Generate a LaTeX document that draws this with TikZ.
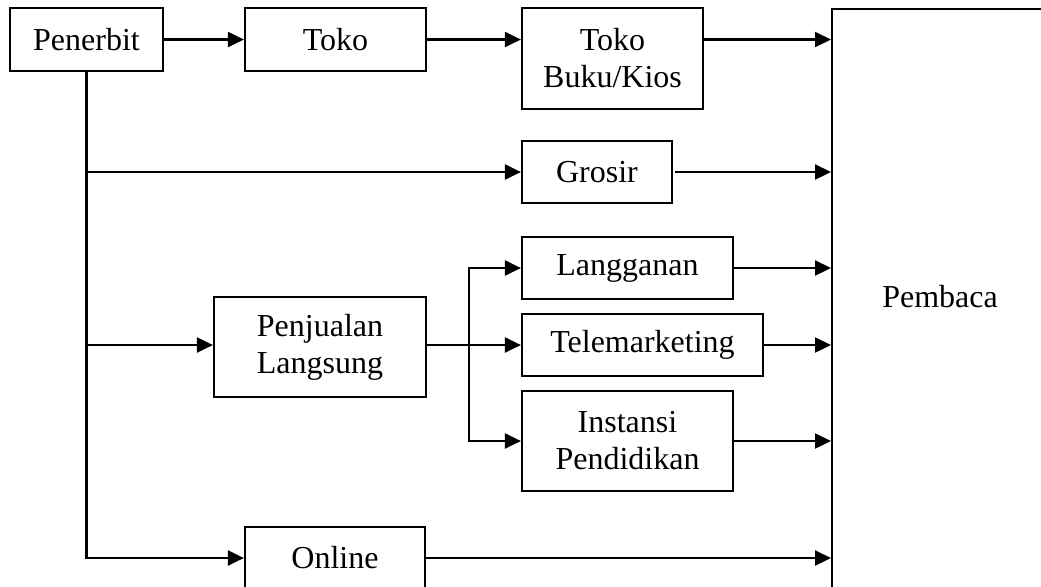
\documentclass[tikz,border=0pt]{standalone}
\usepackage{fontspec}
\setmainfont{Liberation Serif}
\usetikzlibrary{arrows.meta}
\usetikzlibrary{positioning}

\begin{document}
\begin{tikzpicture}[x=0.5pt, y=-0.5pt, line width=1.1pt,
    font=\fontsize{16}{18.5}\selectfont,
    kotak/.style={draw, align=center, inner sep=0pt},
    panah/.style={-{Triangle[length=8pt,width=7.5pt]}}]
  \useasboundingbox (0,0) rectangle (1041,586);
  \clip (0,0) rectangle (1041,586);

  % kotak-kotak
  \node[kotak, minimum width=76.5pt, minimum height=31.5pt] (penerbit) at (86.5,39.5) {Penerbit};
  \node[kotak, minimum width=90.5pt, minimum height=31.5pt] (toko) at (335.5,39.5) {Toko};
  \node[kotak, minimum width=90.5pt, minimum height=50.5pt] (tokobuku) at (612.5,58.5) {Toko\\Buku/Kios};
  \node[kotak, minimum width=75pt, minimum height=31pt] (grosir) at (597,172) {Grosir};
  \node[kotak, minimum width=106pt, minimum height=50pt] (langsung) at (320,347) {Penjualan\\Langsung};
  \node[kotak, minimum width=105.5pt, minimum height=31pt] (langganan) at (627.5,268) {Langganan};
  \node[kotak, minimum width=120.5pt, minimum height=31pt] (tele) at (642.5,345) {Telemarketing};
  \node[kotak, minimum width=105.5pt, minimum height=50pt] (instansi) at (627.5,441) {Instansi\\Pendidikan};
  \node[kotak, minimum width=90pt, minimum height=31pt] (online) at (335,558) {Online};
  \node[kotak, minimum width=150pt, minimum height=350pt, anchor=north west] (pembaca) at (831,8) {};
  \node (pembacateks) at (940,297) {Pembaca};
  \coordinate (cabang) at (469,345);

  % jalur dari penerbit
  \draw[panah] (penerbit) -- (toko);
  \draw[panah] (toko) -- (toko -| tokobuku.west);
  \draw[panah] (penerbit.south) |- (online);
  \draw[panah] (penerbit.south |- grosir) -- (grosir);
  \draw[panah] (penerbit.south |- tele) -- (tele -| langsung.west);

  % penjualan langsung
  \draw[panah] (tele -| langsung.east) -- (tele);
  \draw[panah] (cabang) |- (langganan);
  \draw[panah] (cabang) |- (instansi);

  % ke pembaca
  \draw[panah] (toko -| tokobuku.east) -- (toko -| pembaca.west);
  \draw[panah, shorten <=1pt] (grosir) -- (grosir -| pembaca.west);
  \draw[panah] (langganan) -- (langganan -| pembaca.west);
  \draw[panah] (tele) -- (tele -| pembaca.west);
  \draw[panah] (instansi) -- (instansi -| pembaca.west);
  \draw[panah] (online) -- (online -| pembaca.west);
\end{tikzpicture}
\end{document}
